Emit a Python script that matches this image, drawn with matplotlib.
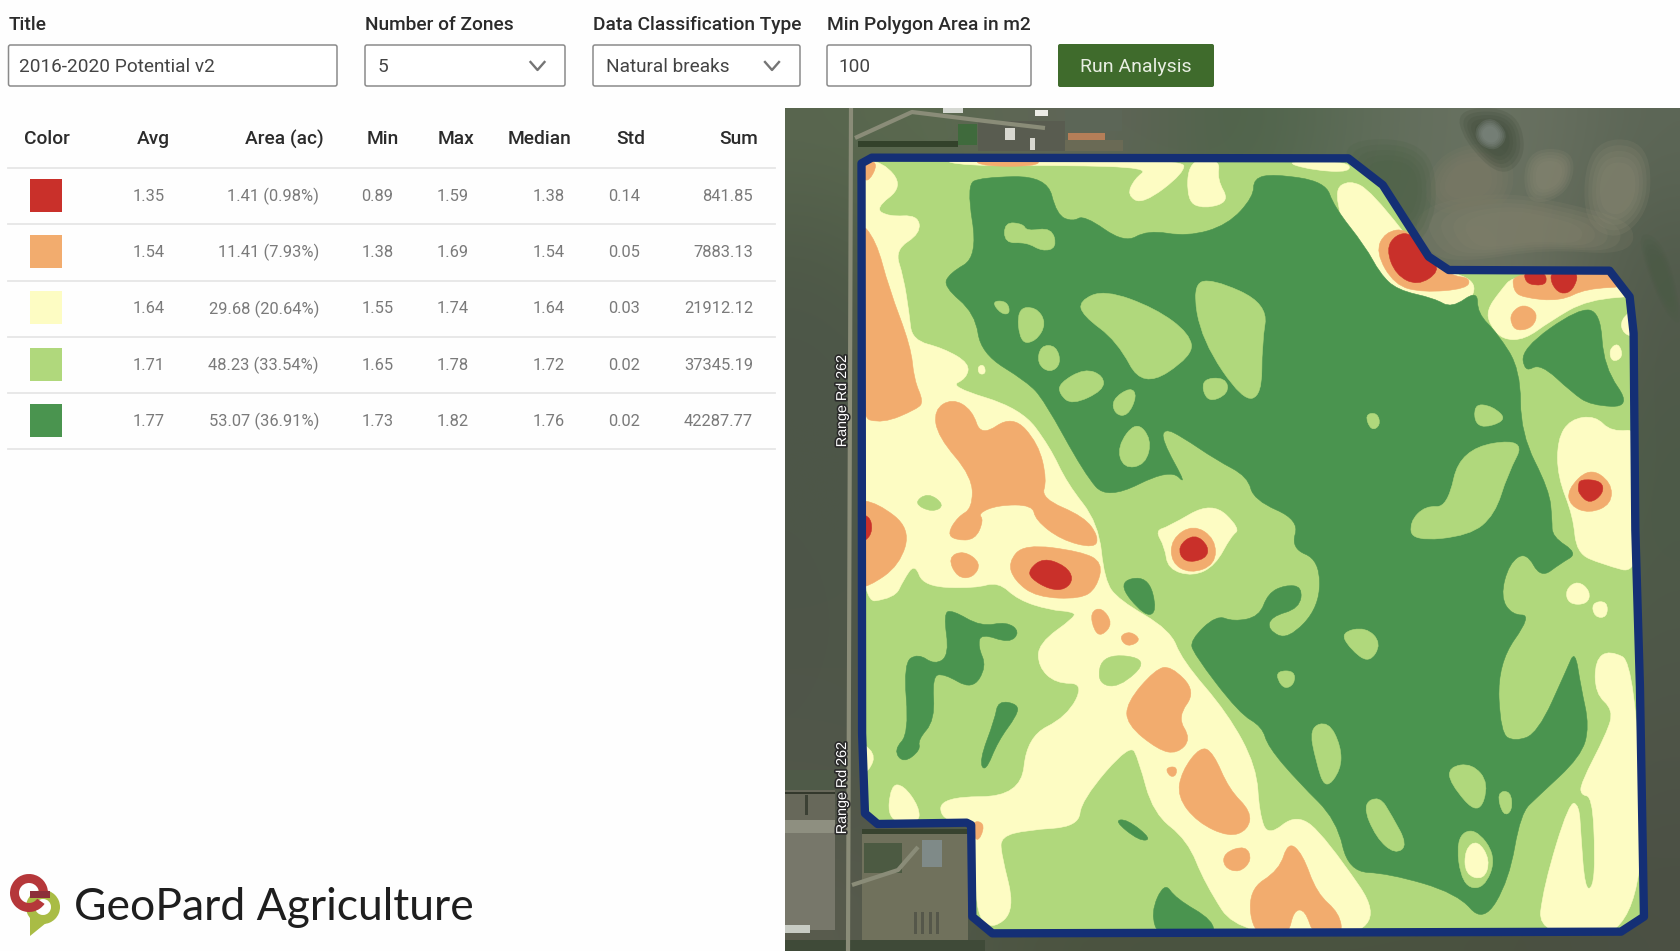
#!/usr/bin/python
import matplotlib
matplotlib.use('Agg')
import matplotlib.pyplot as plt
import matplotlib.patheffects as pe
from matplotlib.colors import to_rgb
from matplotlib.patches import Rectangle, FancyBboxPatch, PathPatch, Wedge, Polygon
from matplotlib.path import Path
import numpy as np

plt.rcParams['font.family'] = ['Roboto', 'DejaVu Sans']

# form controls
field_labels = ['Title', 'Number of Zones', 'Data Classification Type', 'Min Polygon Area in m2']
field_values = ['2016-2020 Potential v2', '5', 'Natural breaks', '100']
button_label = 'Run Analysis'

# zone table
table_headers = ['Color', 'Avg', 'Area (ac)', 'Min', 'Max', 'Median', 'Std', 'Sum']
zone_colors = ['#c9302a', '#f2ac6e', '#fdfcc3', '#b0d87c', '#4a944f']
avg_vals = ['1.35', '1.54', '1.64', '1.71', '1.77']
area_vals = ['1.41 (0.98%)', '11.41 (7.93%)', '29.68 (20.64%)', '48.23 (33.54%)', '53.07 (36.91%)']
min_vals = ['0.89', '1.38', '1.55', '1.65', '1.73']
max_vals = ['1.59', '1.69', '1.74', '1.78', '1.82']
median_vals = ['1.38', '1.54', '1.64', '1.72', '1.76']
std_vals = ['0.14', '0.05', '0.03', '0.02', '0.02']
sum_vals = ['841.85', '7883.13', '21912.12', '37345.19', '42287.77']

# satellite background, coarse colours (top to bottom)
sat_colors = [
    ['#59664f', '#5a6a4e', '#5f6557', '#5f6557', '#4d6348', '#5a6a55', '#66705f', '#6a7262', '#5c6656'],
    ['#4f5a48', '#56664c', '#5a6650', '#5a6a50', '#556a4e', '#5f6d58', '#6a7260', '#6a705f', '#525c4c'],
    ['#4d5648', '#4f5a48', '#56664c', '#5a6a50', '#5d6a52', '#64705a', '#70735f', '#6c7060', '#50594a'],
    ['#4d5648', '#4f5a48', '#56664c', '#5a6a50', '#5d6a52', '#5f6a55', '#626c58', '#5e6a54', '#4d5a48'],
    ['#4d5648', '#4f5a48', '#56664c', '#5a6a50', '#5d6a52', '#5f6a55', '#5b6a52', '#556650', '#4d5a48'],
    ['#4e5548', '#4f5a48', '#56664c', '#5a6a50', '#5d6a52', '#5f6a55', '#5b6a52', '#505f4c', '#4f5849'],
    ['#50564a', '#4f5a48', '#56664c', '#5a6a50', '#5d6a52', '#5f6a55', '#5b6a52', '#4f5c4a', '#4f5548'],
    ['#525649', '#50594a', '#56664c', '#5a6a50', '#5d6a52', '#5f6a55', '#5b6a52', '#4d5849', '#4d5246'],
    ['#5a5c4e', '#50584a', '#4c5440', '#4a5240', '#4a5240', '#4a5240', '#4a5240', '#4a5040', '#4b5044'],
]

# soft terrain patches on the satellite picture, pixel positions
terrain_colors = ['#85836e', '#7e7c68', '#8a8974', '#8a8974', '#3f4b3a', '#4c6146', '#4a5a45', '#8c9490']
terrain_blobs = [
    [(1435, 215), (1500, 200), (1560, 210), (1610, 225), (1605, 250), (1540, 245), (1480, 255), (1450, 250)],
    [(1450, 155), (1500, 150), (1505, 200), (1450, 210), (1430, 190)],
    [(1530, 155), (1570, 155), (1565, 190), (1530, 200)],
    [(1595, 152), (1640, 150), (1645, 200), (1620, 230), (1590, 215)],
    [(1465, 115), (1510, 115), (1520, 150), (1500, 170), (1470, 140)],
    [(1350, 150), (1420, 150), (1430, 200), (1410, 240), (1370, 190)],
    [(1640, 240), (1665, 250), (1680, 320), (1660, 300)],
    [(1478, 128), (1492, 120), (1505, 135), (1495, 148), (1480, 142)],
]

# farm buildings and yards around the field, (x, y, width, height, colour) in pixels
farm_rects = [
    (943, 108, 20, 5, '#d5d8d2'), (1035, 110, 13, 6, '#ecece6'), (978, 121, 87, 30, '#595c50'),
    (1065, 110, 57, 21, '#5c6657'), (1065, 140, 58, 11, '#6a6a55'), (1068, 133, 37, 7, '#b57e58'),
    (1005, 128, 10, 12, '#d8d8d0'), (1030, 138, 5, 12, '#d8d8d0'), (958, 124, 19, 21, '#3f6a3c'),
    (858, 141, 100, 6, '#33422b'),
    (862, 833, 106, 107, '#70715c'), (864, 843, 38, 30, '#4c5a42'), (922, 840, 20, 27, '#7f8a88'),
    (862, 829, 106, 5, '#38432f'), (914, 912, 3, 22, '#55574a'), (921, 912, 3, 22, '#55574a'),
    (929, 912, 3, 22, '#55574a'), (936, 912, 3, 22, '#55574a'),
    (785, 830, 50, 100, '#77776a'), (785, 820, 50, 13, '#8e8f80'), (785, 790, 50, 30, '#67685a'),
    (785, 770, 50, 20, '#4f5a48'), (785, 792, 50, 2, '#33382c'), (805, 795, 3, 20, '#3b4034'),
    (785, 925, 25, 8, '#c8ccc4'), (785, 940, 200, 11, '#3f4a38'),
]

# gravel road along the west side and the yard tracks, pixel positions
road_lines = [
    [(851, 108), (848, 951)],
    [(855, 138), (912, 112), (985, 121), (1045, 128)],
    [(852, 885), (898, 870), (918, 847)],
]

# all zone outlines below are in (u, v): x = 780 + u / 1.742, y = 100 + v / 3
field_outline = [(142, 190), (160, 173), (990, 175), (1050, 255), (1130, 470), (1165, 510), (1445, 512),
                 (1480, 590), (1487, 700), (1490, 1290), (1498, 1760), (1505, 2450), (1465, 2495), (370, 2500),
                 (335, 2450), (333, 2175), (325, 2168), (170, 2172), (148, 2140), (143, 1900)]

yellow_zones = [
    [(130, 180), (180, 185), (215, 260), (165, 325), (190, 350), (240, 345), (245, 400), (200, 450), (215, 530),
     (225, 640), (230, 720), (285, 745), (330, 790), (325, 835), (295, 860), (420, 925), (470, 1040), (500, 1150),
     (555, 1270), (565, 1440), (590, 1500), (680, 1590), (700, 1680), (780, 1840), (830, 2000), (835, 2140),
     (850, 2210), (900, 2140), (950, 2210), (1070, 2510), (800, 2510), (740, 2350), (710, 2220), (650, 2140),
     (625, 1980), (610, 1930), (525, 2100), (520, 2180), (430, 2190), (385, 2210), (385, 2260), (410, 2430),
     (370, 2490), (340, 2440), (340, 2170), (280, 2160), (280, 2090), (420, 2090), (430, 1910), (500, 1850),
     (530, 1750), (480, 1750), (450, 1700), (450, 1630), (515, 1550), (510, 1535), (470, 1530), (415, 1500),
     (380, 1445), (340, 1465), (250, 1460), (235, 1390), (215, 1440), (200, 1495), (130, 1510)],
    [(130, 1920), (165, 1960), (155, 2010), (130, 2030)],
    [(190, 2160), (195, 2060), (215, 2060), (240, 2120), (240, 2165)],
    [(300, 180), (690, 180), (690, 220), (625, 305), (600, 280), (612, 235), (635, 205), (500, 198), (340, 200)],
    [(715, 185), (765, 185), (760, 240), (780, 300), (740, 320), (712, 300)],
    [(880, 185), (985, 185), (990, 215), (930, 210)],
    [(975, 290), (1000, 260), (1035, 290), (1130, 500), (1200, 530), (1195, 590), (1165, 620), (1100, 590),
     (1050, 560), (1000, 430)],
    [(1240, 630), (1260, 580), (1285, 530), (1450, 525), (1495, 590), (1400, 600), (1340, 660), (1300, 710),
     (1265, 710), (1245, 670)],
    [(1465, 660), (1495, 620), (1495, 710), (1470, 700)],
    [(1445, 750), (1460, 730), (1468, 770), (1450, 785)],
    [(1360, 1030), (1380, 975), (1420, 965), (1445, 1010), (1495, 1000), (1495, 1400), (1430, 1370), (1390, 1340),
     (1385, 1240), (1360, 1130)],
    [(1370, 1470), (1390, 1445), (1410, 1475), (1405, 1510), (1375, 1510)],
    [(1415, 1510), (1440, 1505), (1440, 1550), (1420, 1550)],
    [(1420, 1680), (1445, 1650), (1490, 1690), (1510, 2510), (1320, 2510), (1330, 2360), (1375, 2105), (1392, 2115),
     (1395, 2200), (1402, 2365), (1416, 2365), (1420, 2270), (1415, 2090), (1395, 2085), (1395, 2050), (1440, 1900),
     (1452, 1830), (1420, 1780)],
    [(680, 1285), (750, 1215), (795, 1290), (780, 1310), (755, 1390), (720, 1420), (680, 1400), (675, 1340),
     (660, 1295)],
]

orange_zones = [
    [(140, 390), (170, 450), (190, 580), (225, 740), (230, 830), (245, 890), (235, 910), (180, 950), (140, 930)],
    [(340, 180), (450, 180), (440, 198), (360, 198)],
    [(135, 185), (172, 185), (150, 255)],
    [(268, 930), (300, 895), (335, 930), (350, 1010), (405, 945), (450, 1030), (465, 1140), (455, 1195), (530, 1250),
     (555, 1310), (548, 1345), (490, 1320), (445, 1260), (440, 1215), (380, 1215), (345, 1240), (355, 1260),
     (340, 1320), (305, 1320), (292, 1300), (310, 1250), (335, 1225), (335, 1130), (275, 1010)],
    [(130, 1210), (170, 1220), (222, 1290), (205, 1390), (155, 1450), (130, 1450)],
    [(295, 1375), (320, 1355), (348, 1390), (335, 1430), (310, 1430)],
    [(405, 1390), (430, 1340), (520, 1360), (555, 1390), (545, 1460), (520, 1490), (450, 1485), (415, 1440)],
    [(542, 1540), (560, 1525), (578, 1570), (560, 1605), (548, 1590)],
    [(592, 1610), (610, 1595), (628, 1620), (605, 1640)],
    [(655, 1720), (680, 1710), (720, 1780), (690, 1850), (712, 1910), (690, 1950), (660, 1940), (610, 1870),
     (610, 1810)],
    [(672, 2005), (690, 2000), (690, 2025), (680, 2030)],
    [(735, 1952), (755, 1970), (780, 2070), (815, 2130), (810, 2180), (780, 2200), (730, 2160), (698, 2090),
     (705, 2020)],
    [(775, 2260), (810, 2240), (820, 2280), (800, 2315), (775, 2300)],
    [(885, 2225), (910, 2260), (935, 2380), (975, 2440), (980, 2510), (930, 2510), (915, 2430), (895, 2430),
     (885, 2510), (825, 2510), (815, 2370), (870, 2310)],
    [(335, 2165), (355, 2170), (350, 2210), (340, 2220)],
    [(1045, 460), (1060, 405), (1095, 395), (1130, 470), (1165, 525), (1195, 530), (1190, 560), (1120, 570),
     (1075, 550)],
    [(1285, 520), (1445, 520), (1475, 560), (1400, 565), (1360, 600), (1300, 590), (1285, 570)],
    [(1275, 640), (1295, 615), (1318, 640), (1310, 680), (1285, 690), (1275, 670)],
    [(1375, 1170), (1410, 1110), (1445, 1150), (1445, 1210), (1410, 1235), (1380, 1215)],
    [(685, 1320), (720, 1280), (755, 1320), (755, 1390), (715, 1415), (685, 1385)],
]

red_zones = [
    [(130, 1245), (155, 1250), (160, 1290), (150, 1320), (130, 1320)],
    [(437, 1410), (460, 1378), (495, 1400), (508, 1435), (495, 1465), (470, 1465), (440, 1435)],
    [(1060, 450), (1075, 410), (1100, 405), (1130, 470), (1145, 510), (1110, 550), (1075, 520)],
    [(1298, 515), (1330, 515), (1335, 550), (1315, 555), (1300, 545)],
    [(1345, 515), (1390, 515), (1380, 570), (1360, 580), (1345, 550)],
    [(1392, 1160), (1395, 1140), (1430, 1145), (1432, 1180), (1410, 1208), (1393, 1180)],
    [(695, 1340), (722, 1305), (745, 1340), (740, 1375), (705, 1385)],
]

dark_zones = [
    [(325, 255), (350, 232), (465, 228), (482, 345), (510, 365), (530, 345), (600, 430), (640, 390), (710, 410),
     (780, 375), (825, 290), (825, 235), (860, 222), (950, 245), (965, 320), (1020, 440), (1045, 520), (1075, 570),
     (1140, 595), (1170, 625), (1215, 570), (1215, 640), (1250, 700), (1290, 810), (1290, 1000), (1340, 1170),
     (1345, 1260), (1345, 1310), (1390, 1360), (1360, 1390), (1325, 1435), (1300, 1355), (1270, 1390), (1255, 1490),
     (1275, 1545), (1310, 1545), (1250, 1690), (1255, 1900), (1280, 1925), (1320, 1900), (1370, 1710), (1385, 1650),
     (1395, 1760), (1410, 1880), (1395, 1970), (1320, 2090), (1290, 2140), (1270, 2340), (1225, 2470), (1180, 2380),
     (1060, 2320), (990, 2315), (970, 2160), (905, 2050), (850, 1940), (840, 1880), (800, 1840), (720, 1660),
     (715, 1620), (760, 1545), (790, 1565), (835, 1550), (850, 1480), (880, 1455), (910, 1460), (905, 1525),
     (855, 1550), (850, 1590), (885, 1620), (940, 1520), (940, 1380), (890, 1345), (905, 1260), (825, 1200),
     (815, 1130), (760, 1080), (700, 1010), (670, 985), (665, 1020), (710, 1160), (680, 1105), (570, 1200),
     (530, 1120), (460, 900), (430, 845), (350, 760), (340, 640), (285, 560), (295, 520), (345, 470)],
    [(1300, 750), (1390, 640), (1425, 650), (1430, 800), (1475, 910), (1410, 905), (1380, 870), (1330, 790),
     (1305, 815)],
    [(285, 1540), (300, 1530), (350, 1580), (395, 1565), (418, 1595), (400, 1630), (350, 1600), (345, 1640),
     (360, 1700), (335, 1770), (285, 1720), (265, 1730), (270, 1860), (240, 1920), (245, 1950), (215, 1990),
     (198, 1950), (225, 1900), (215, 1690), (240, 1660), (270, 1695), (295, 1665)],
    [(380, 1810), (412, 1820), (410, 1850), (380, 1920), (360, 2005), (350, 1975), (375, 1860)],
    [(590, 1450), (640, 1432), (655, 1530), (635, 1545)],
    [(585, 2165), (605, 2160), (645, 2215), (625, 2220)],
    [(672, 2355), (690, 2400), (750, 2460), (750, 2510), (665, 2510), (650, 2440)],
]

# light green islands and the yellow spots that sit on top of the dark zone
light_islands = [
    [(395, 370), (425, 375), (430, 395), (470, 385), (478, 440), (455, 450), (430, 425), (395, 428)],
    [(370, 605), (395, 605), (400, 640), (385, 640)],
    [(415, 630), (445, 625), (462, 670), (445, 720), (420, 725)],
    [(455, 740), (480, 740), (488, 790), (470, 815), (450, 790)],
    [(490, 850), (530, 810), (560, 830), (560, 870), (510, 910), (490, 880)],
    [(580, 900), (610, 865), (620, 890), (605, 945), (585, 940)],
    [(590, 1040), (620, 970), (645, 1020), (635, 1090), (600, 1100)],
    [(530, 610), (570, 580), (650, 630), (705, 700), (710, 760), (630, 850), (590, 720), (535, 650)],
    [(725, 570), (755, 550), (845, 620), (835, 730), (835, 870), (805, 885), (740, 720)],
    [(735, 840), (775, 835), (780, 880), (745, 905)],
    [(1020, 945), (1040, 940), (1045, 975), (1030, 990)],
    [(1210, 915), (1240, 920), (1265, 960), (1215, 985)],
    [(1185, 1060), (1290, 1030), (1260, 1130), (1240, 1240), (1200, 1297), (1110, 1312), (1105, 1260), (1130, 1215),
     (1165, 1220)],
    [(980, 1600), (1020, 1585), (1045, 1630), (1025, 1685), (995, 1645)],
    [(868, 1715), (895, 1715), (895, 1750), (880, 1765), (868, 1740)],
    [(925, 1890), (955, 1872), (975, 1940), (975, 2005), (950, 2060), (935, 1980)],
    [(1168, 2005), (1205, 1995), (1232, 2050), (1215, 2140), (1170, 2050)],
    [(1250, 2080), (1272, 2075), (1275, 2130), (1260, 2145)],
    [(1018, 2120), (1045, 2095), (1065, 2150), (1090, 2230), (1070, 2255), (1040, 2210)],
    [(1180, 2220), (1210, 2190), (1245, 2270), (1225, 2360), (1190, 2350)],
    [(235, 1210), (258, 1180), (285, 1215), (265, 1235)],
    [(565, 1665), (640, 1680), (590, 1760), (555, 1745)],
]
yellow_islands = [
    [(1195, 2250), (1215, 2225), (1235, 2280), (1225, 2335), (1195, 2320)],
    [(345, 800), (355, 795), (358, 820), (347, 822)],
]


def to_px(points):
    pts = np.array(points, dtype=float)
    return np.column_stack([780 + pts[:, 0] / 1.742, 100 + pts[:, 1] / 3])


# Closed quadratic spline through the edge midpoints, so the zones come out as soft blobs
def spline_path(pts):
    mids = (pts + np.roll(pts, -1, axis=0)) / 2
    verts = [mids[-1]]
    codes = [Path.MOVETO]
    for i in range(len(pts)):
        verts += [pts[i], mids[i]]
        codes += [Path.CURVE3, Path.CURVE3]
    return Path(verts, codes)


# The spline cuts corners, small shapes get pushed out a bit to make up for it
def blob_path(points):
    pts = to_px(points)
    if len(pts) <= 10:
        center = pts.mean(axis=0)
        pts = center + (pts - center) * 1.1
    return spline_path(pts)


def draw_zones(ax, shapes, color, clip, zorder):
    for shape in shapes:
        patch = PathPatch(blob_path(shape), facecolor=color, edgecolor=color, linewidth=0.4, zorder=zorder)
        ax.add_patch(patch)
        patch.set_clip_path(clip)


def chevron(ax, x, y):
    ax.plot([x - 7, x, x + 7], [y - 4, y + 4, y - 4], color='#757575', lw=1.7, zorder=3)


fig = plt.figure(figsize=(16.8, 9.51), dpi=100, facecolor='#fefefe')
ax = fig.add_axes([0, 0, 1, 1])

# form row
box_lefts = [8.5, 365, 593, 827]
box_rights = [337, 565, 800, 1031]
text_lefts = [19, 378, 606, 838]
for i in range(4):
    ax.text(box_lefts[i], 25.5, field_labels[i], fontsize=13.8, fontweight='medium', color='#2b2b2b', va='center')
    ax.add_patch(FancyBboxPatch((box_lefts[i], 45), box_rights[i] - box_lefts[i], 41, boxstyle='round,pad=0,rounding_size=2',
                                facecolor='white', edgecolor='#8a8a8a', linewidth=1.1))
    ax.text(text_lefts[i], 67, field_values[i], fontsize=13.7, color='#444444', va='center')
chevron(ax, 537.5, 66)
chevron(ax, 772, 66)
ax.add_patch(FancyBboxPatch((1058, 44), 156, 43, boxstyle='round,pad=0,rounding_size=2', facecolor='#3f6b2c', edgecolor='none'))
ax.text(1136, 67, button_label, fontsize=14, color='#e8eee2', ha='center', va='center')

# table
header_rights = [70, 170, 324, 399, 474, 571, 645, 758]
cell_rights = [165, 319, 393.5, 468.5, 565, 640, 753]
columns = [avg_vals, area_vals, min_vals, max_vals, median_vals, std_vals, sum_vals]
for i, name in enumerate(table_headers):
    ax.text(header_rights[i], 139.5, name, fontsize=13.8, fontweight='medium', color='#2b2b2b', ha='right', va='center')
line_ys = [168, 224, 280.5, 337, 393, 449]
for y in line_ys:
    ax.plot([8, 775], [y, y], color='#e6e6e6', lw=1.3, zorder=1)
for r in range(5):
    y = 196 + 56.2 * r
    ax.add_patch(Rectangle((29.5, y - 17), 32, 33, facecolor=zone_colors[r], edgecolor='none'))
    for c, col in enumerate(columns):
        ax.text(cell_rights[c], y + 0.5, col[r], fontsize=11.9, color='#7a7a7a', ha='right', va='center')

# logo
ax.add_patch(Wedge((43, 907), 17, 0, 360, width=9, facecolor='#a9bc45', edgecolor='none'))
ax.add_patch(Polygon([(30, 915), (30, 936), (46, 923)], closed=True, facecolor='#a9bc45', edgecolor='none'))
ax.add_patch(Wedge((29, 893), 19, 35, 360, width=9, facecolor='#b5373a', edgecolor='none'))
ax.add_patch(Rectangle((30, 891), 20, 7, facecolor='#8c2f3a', edgecolor='none'))
ax.text(74, 908, 'GeoPard Agriculture', fontsize=32, family=['Lato', 'DejaVu Sans'], color='#1e1e1e', va='center')

# satellite picture
sat = np.array([[to_rgb(c) for c in row] for row in sat_colors])
ax.imshow(sat, extent=(785, 1680, 951, 108), interpolation='bicubic', aspect='auto', zorder=2)
# several passes of shrinking size give the terrain patches a soft edge
for color, blob in zip(terrain_colors, terrain_blobs):
    pts = np.array(blob, dtype=float)
    center = pts.mean(axis=0)
    for scale in [1.3, 1.15, 1.0, 0.85, 0.7]:
        ax.add_patch(PathPatch(spline_path(center + (pts - center) * scale), facecolor=color, edgecolor='none',
                               alpha=0.2, zorder=2.1))
for x0, y0, w, h, color in farm_rects:
    ax.add_patch(Rectangle((x0, y0), w, h, facecolor=color, edgecolor='none', zorder=2.2))
for line in road_lines:
    pts = np.array(line)
    ax.plot(pts[:, 0], pts[:, 1], color='#8a8c78', lw=3, zorder=2.3, solid_capstyle='butt')

# field and zones, painted from the light base upward
outline_pts = to_px(field_outline)
field = Polygon(outline_pts, closed=True, facecolor=zone_colors[3], edgecolor='none', zorder=3)
ax.add_patch(field)
draw_zones(ax, yellow_zones, zone_colors[2], field, 3.1)
draw_zones(ax, orange_zones, zone_colors[1], field, 3.2)
draw_zones(ax, red_zones, zone_colors[0], field, 3.3)
draw_zones(ax, dark_zones, zone_colors[4], field, 3.4)
draw_zones(ax, light_islands, zone_colors[3], field, 3.5)
draw_zones(ax, yellow_islands, zone_colors[2], field, 3.6)
ax.add_patch(Polygon(outline_pts, closed=True, facecolor='none', edgecolor='#142f75', linewidth=6, joinstyle='round', zorder=4))

# road labels
for y in [401, 788]:
    ax.text(842, y, 'Range Rd 262', rotation=90, fontsize=10.3, family=['Liberation Sans', 'DejaVu Sans'], color='white',
            ha='center', va='center', zorder=5, path_effects=[pe.withStroke(linewidth=2.4, foreground='#2a2a2a')])

ax.set_xlim(0, 1680)
ax.set_ylim(951, 0)
ax.axis('off')
fig.savefig('out.png', dpi=100, facecolor=fig.get_facecolor())
